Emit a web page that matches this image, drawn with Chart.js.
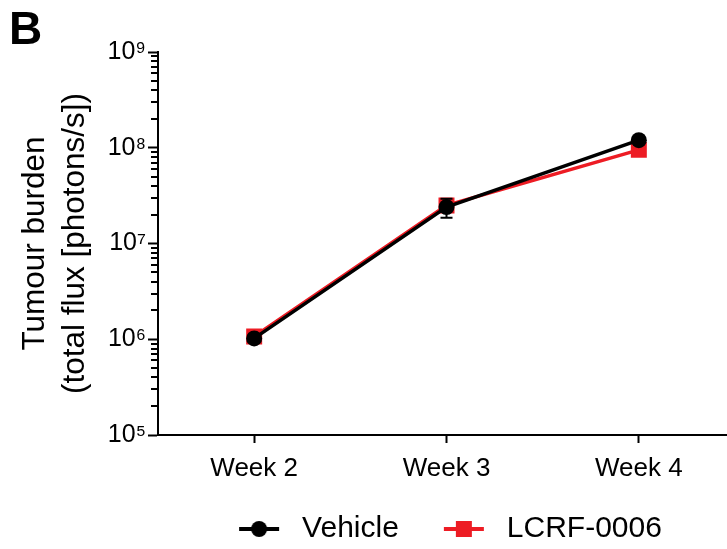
<!DOCTYPE html>
<html><head><meta charset="utf-8">
<script src="https://cdn.jsdelivr.net/npm/chart.js@4"></script>
<style>html,body{margin:0;padding:0;overflow:hidden;background:#fff}
#wrap{width:760px;height:554px}
</style></head><body><div id="wrap"><canvas id="c" width="760" height="554"></canvas></div>
<script>
const panelLabel = 'B';
const categories = ['Week 2', 'Week 3', 'Week 4'];
const seriesNames = ['Vehicle', 'LCRF-0006'];
const vehicleMean = [1.02e6, 2.4e7, 1.2e8];
const vehicleErr = [0.05e6, 0.54e7, 0.1e8];
const lcrfMean = [1.07e6, 2.5e7, 0.95e8];
const lcrfErr = [0.06e6, 0.3e7, 0.08e8];
const yTickValues = [1e5, 1e6, 1e7, 1e8, 1e9];
const yTickLabels = ['10⁵', '10⁶', '10⁷', '10⁸', '10⁹'];
const yTitle = ['Tumour burden', '(total flux [photons/s])'];
const seriesColors = ['#000000', '#ed1c24'];

Chart.defaults.font.family = 'Liberation Sans, Arial, sans-serif';
Chart.defaults.color = '#000';

function makeIcon(color, shape) {
  const c = document.createElement('canvas');
  c.width = 42; c.height = 20;
  const g = c.getContext('2d');
  g.strokeStyle = color; g.lineWidth = 4;
  g.beginPath(); g.moveTo(1, 10); g.lineTo(41, 10); g.stroke();
  g.fillStyle = color;
  if (shape === 'circle') { g.beginPath(); g.arc(21, 10, 8, 0, Math.PI * 2); g.fill(); }
  else { g.fillRect(13, 2, 16, 16); }
  return c;
}
const legendIcons = [makeIcon(seriesColors[0], 'circle'), makeIcon(seriesColors[1], 'rect')];

const panelPlugin = {
  id: 'panelLabel',
  afterDraw(chart) {
    const g = chart.ctx;
    g.save();
    g.font = 'bold 46px Liberation Sans, Arial, sans-serif';
    g.fillStyle = '#000';
    g.textBaseline = 'alphabetic';
    g.fillText(panelLabel, 9, 44);
    g.restore();
  }
};

const minorTicks = {
  id: 'minorTicks',
  afterDraw(chart) {
    const s = chart.scales.y, g = chart.ctx;
    g.save();
    g.strokeStyle = '#000'; g.lineWidth = 2;
    for (let e = 5; e < 9; e++) {
      for (let k = 2; k <= 9; k++) {
        const y = Math.round(s.getPixelForValue(k * Math.pow(10, e)));
        g.beginPath(); g.moveTo(s.right - 7, y); g.lineTo(s.right, y); g.stroke();
      }
    }
    g.restore();
  }
};

const errorBars = {
  id: 'errorBars',
  beforeDatasetDraw(chart, args) {
    const ds = chart.data.datasets[args.index];
    const meta = chart.getDatasetMeta(args.index);
    const s = chart.scales.y, g = chart.ctx;
    g.save();
    g.strokeStyle = ds.borderColor; g.lineWidth = 2;
    meta.data.forEach((pt, j) => {
      const v = ds.data[j], e = ds.errors[j];
      const yh = s.getPixelForValue(v + e), yl = s.getPixelForValue(v - e);
      g.beginPath();
      g.moveTo(pt.x, yh); g.lineTo(pt.x, yl);
      g.moveTo(pt.x - 6, yh); g.lineTo(pt.x + 6, yh);
      g.moveTo(pt.x - 6, yl); g.lineTo(pt.x + 6, yl);
      g.stroke();
    });
    g.restore();
  }
};

new Chart(document.getElementById('c'), {
  type: 'line',
  data: {
    labels: categories,
    datasets: [
      { label: seriesNames[0], data: vehicleMean, errors: vehicleErr, borderColor: seriesColors[0], backgroundColor: seriesColors[0],
        borderWidth: 3.5, pointStyle: 'circle', pointRadius: 8, pointBorderWidth: 0, tension: 0 },
      { label: seriesNames[1], data: lcrfMean, errors: lcrfErr, borderColor: seriesColors[1], backgroundColor: seriesColors[1],
        borderWidth: 3.5, pointStyle: 'rect', pointRadius: 11.3, pointBorderWidth: 0, tension: 0 }
    ]
  },
  options: {
    responsive: false, animation: false, devicePixelRatio: 1,
    layout: { padding: { left: 15, top: 52, right: 25, bottom: 0 } },
    plugins: {
      tooltip: { enabled: false },
      legend: {
        position: 'bottom', fullSize: false,
        labels: {
          usePointStyle: true, pointStyleWidth: 56, padding: 37,
          font: { size: 30 }, color: '#000',
          generateLabels: (chart) => chart.data.datasets.map((ds, i) => ({
            text: ds.label, pointStyle: legendIcons[i], fillStyle: ds.borderColor, strokeStyle: ds.borderColor,
            lineWidth: 0, hidden: false, datasetIndex: i, fontColor: '#000'
          }))
        }
      }
    },
    scales: {
      x: {
        type: 'category', offset: true,
        grid: { offset: false, drawOnChartArea: false, tickLength: 8, tickWidth: 2, tickColor: '#000' },
        border: { display: true, color: '#000', width: 2 },
        ticks: { font: { size: 26 }, color: '#000', padding: 10, maxRotation: 0 },
        afterFit: (s) => { s.height = 42; }
      },
      y: {
        type: 'logarithmic', min: 1e5, max: 1e9, position: 'left',
        afterBuildTicks: (s) => { s.ticks = yTickValues.map(v => ({ value: v, major: true })); },
        afterFit: (s) => { s.width = 143; },
        ticks: {
          autoSkip: false, padding: 2, color: '#000', font: { size: 25 },
          callback: (v) => { const i = yTickValues.indexOf(v); return i >= 0 ? yTickLabels[i] : ''; }
        },
        grid: { drawOnChartArea: false, tickLength: 10, tickWidth: 2, tickColor: '#000' },
        border: { display: true, color: '#000', width: 2 },
        title: { display: true, text: yTitle, color: '#000', padding: 0, font: { size: 31.5, lineHeight: 1.27 } }
      }
    }
  },
  plugins: [panelPlugin, minorTicks, errorBars]
});
</script></body></html>
